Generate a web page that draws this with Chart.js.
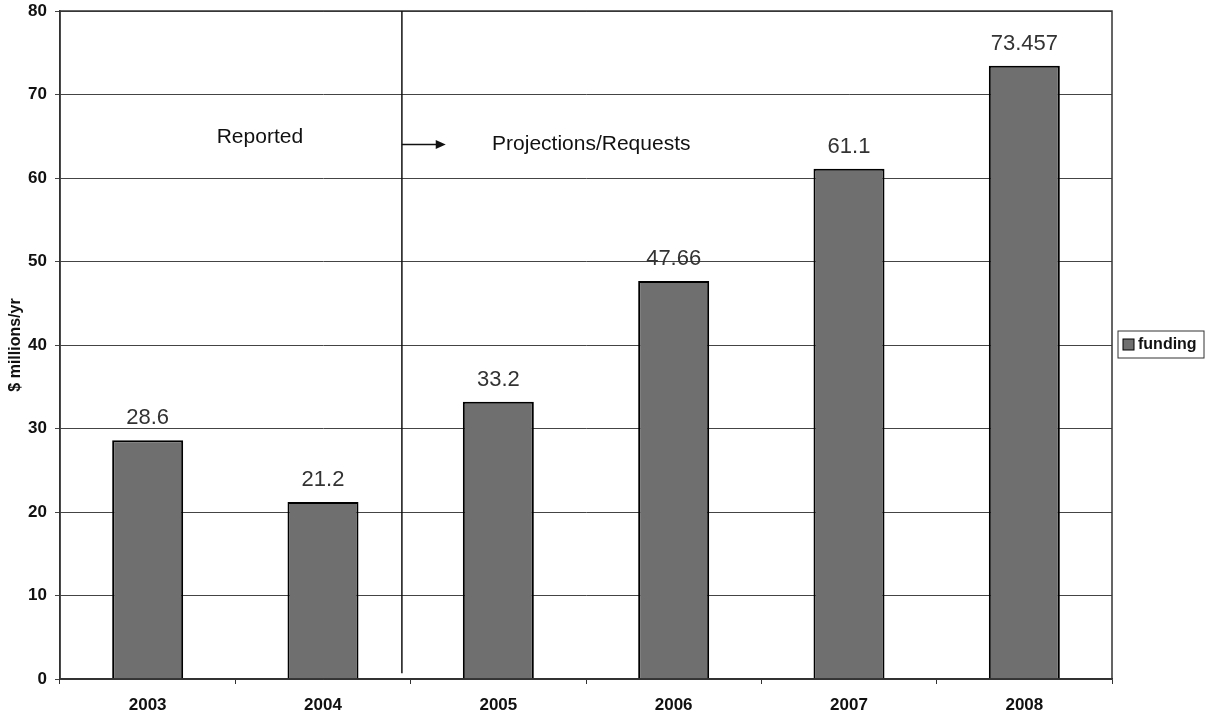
<!DOCTYPE html>
<html lang="en">
  <head>
    <meta charset="UTF-8" />
    <title>Funding</title>
    <script src="https://cdn.jsdelivr.net/npm/chart.js"></script>
    <style>
      body { margin: 0; background: #fff; }
    </style>
  </head>
  <body>
    <canvas id="fundingChart" width="1212" height="719"></canvas>

    <script>
      // data
      const years = ["2003", "2004", "2005", "2006", "2007", "2008"];
      const funding = [28.6, 21.2, 33.2, 47.66, 61.1, 73.457];
      const seriesName = "funding";
      const yTicks = [0, 10, 20, 30, 40, 50, 60, 70, 80];

      const font = "Arial, 'Liberation Sans', sans-serif";

      // extra drawing: border, value labels, divider line, notes, legend box
      const extras = {
        id: "extras",
        afterDatasetsDraw(chart) {
          const ctx = chart.ctx;
          const area = chart.chartArea;
          const x = chart.scales.x;
          const y = chart.scales.y;
          ctx.save();

          // plot border
          ctx.strokeStyle = "#333";
          ctx.lineWidth = 1.5;
          ctx.strokeRect(area.left, area.top, area.right - area.left, area.bottom - area.top);

          // value labels above bars
          ctx.fillStyle = "#333";
          ctx.font = "22px " + font;
          ctx.textAlign = "center";
          ctx.textBaseline = "bottom";
          chart.getDatasetMeta(0).data.forEach((bar, i) => {
            ctx.fillText(String(funding[i]), bar.x, bar.y - 11);
          });

          // divider between reported and projected
          const divX = x.getPixelForValue(1.45);
          ctx.strokeStyle = "#111";
          ctx.lineWidth = 1.5;
          ctx.beginPath();
          ctx.moveTo(divX, area.top);
          ctx.lineTo(divX, y.getPixelForValue(0.7));
          ctx.stroke();

          // arrow
          const ay = y.getPixelForValue(64);
          const ax2 = x.getPixelForValue(1.7);
          ctx.fillStyle = "#111";
          ctx.beginPath();
          ctx.moveTo(divX, ay);
          ctx.lineTo(ax2 - 8, ay);
          ctx.stroke();
          ctx.beginPath();
          ctx.moveTo(ax2, ay);
          ctx.lineTo(ax2 - 10, ay - 4.5);
          ctx.lineTo(ax2 - 10, ay + 4.5);
          ctx.closePath();
          ctx.fill();

          // notes
          ctx.font = "21px " + font;
          ctx.textBaseline = "middle";
          ctx.fillText("Reported", x.getPixelForValue(0.64), y.getPixelForValue(64.9));
          ctx.fillText("Projections/Requests", x.getPixelForValue(2.53), y.getPixelForValue(64.1));

          // legend with frame
          const lx = area.right + 6;
          const ly = (area.top + area.bottom) / 2 - 14;
          ctx.strokeStyle = "#333";
          ctx.lineWidth = 1;
          ctx.strokeRect(lx, ly, 86, 27);
          ctx.fillStyle = "#6f6f6f";
          ctx.fillRect(lx + 5, ly + 8, 11, 11);
          ctx.strokeStyle = "#000";
          ctx.strokeRect(lx + 5, ly + 8, 11, 11);
          ctx.fillStyle = "#111";
          ctx.font = "bold 16px " + font;
          ctx.textAlign = "left";
          ctx.fillText(seriesName, lx + 20, ly + 14);

          ctx.restore();
        },
      };

      new Chart(document.getElementById("fundingChart"), {
        type: "bar",
        data: {
          labels: years,
          datasets: [
            {
              label: seriesName,
              data: funding,
              backgroundColor: "#6f6f6f",
              borderColor: "#000",
              borderWidth: 2,
              categoryPercentage: 1,
              barPercentage: 0.405,
            },
          ],
        },
        options: {
          responsive: false,
          animation: false,
          devicePixelRatio: 1,
          layout: { padding: { left: 0, right: 100, top: 11, bottom: 0 } },
          plugins: {
            legend: { display: false },
            tooltip: { enabled: false },
          },
          scales: {
            x: {
              grid: { drawOnChartArea: false, drawTicks: true, tickLength: 5, color: "#333" },
              border: { color: "#333", width: 1.5 },
              ticks: { color: "#111", font: { family: font, size: 17, weight: "bold" }, padding: 11 },
              afterFit(scale) {
                scale.height = 40;
                scale.paddingLeft = 0;
                scale.paddingRight = 0;
              },
            },
            y: {
              min: 0,
              max: 80,
              afterBuildTicks(axis) {
                axis.ticks = yTicks.map((v) => ({ value: v }));
              },
              afterFit(scale) {
                scale.width = 60;
                scale.paddingTop = 0;
                scale.paddingBottom = 0;
              },
              grid: { color: "#444", lineWidth: 1, tickLength: 5 },
              border: { color: "#333", width: 1.5 },
              ticks: { color: "#111", font: { family: font, size: 17, weight: "bold" }, padding: 8 },
              title: {
                display: true,
                text: "$ millions/yr",
                color: "#111",
                font: { family: font, size: 16, weight: "bold" },
                padding: { top: 6, bottom: 3 },
              },
            },
          },
        },
        plugins: [extras],
      });
    </script>
  </body>
</html>
